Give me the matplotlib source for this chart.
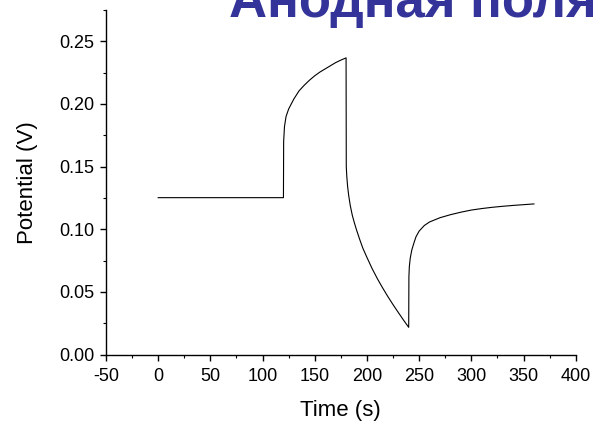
import matplotlib
matplotlib.use('Agg')
import matplotlib.pyplot as plt
from matplotlib.ticker import MultipleLocator

plt.rcParams['font.family'] = ['Liberation Sans', 'DejaVu Sans']
plt.rcParams['axes.unicode_minus'] = False

# readings from the picture: time (s), potential (V)
time = [0, 60, 120,
        120.2, 121, 122.5, 125, 130, 135, 140, 145, 150, 155, 160, 165, 170, 175, 180,
        180.2, 180.7, 181.5, 182.5, 184, 186, 188, 190, 193, 196, 200, 205, 210, 215, 220, 225, 230, 235, 240,
        240.2, 240.6, 241.5, 243, 245, 247, 250, 255, 260, 270, 280, 290, 300, 310, 320, 330, 340, 350, 360]
potential = [0.1252, 0.1252, 0.1252,
             0.170, 0.182, 0.190, 0.196, 0.204, 0.2105, 0.215, 0.219, 0.2225, 0.2255, 0.228, 0.2305, 0.233, 0.235, 0.2368,
             0.150, 0.142, 0.134, 0.127, 0.119, 0.111, 0.105, 0.0995, 0.092, 0.085, 0.0775, 0.0685, 0.0605, 0.0532, 0.0463, 0.0398, 0.0336, 0.0275, 0.0217,
             0.062, 0.070, 0.077, 0.0835, 0.089, 0.094, 0.0985, 0.1030, 0.1058, 0.1092, 0.1116, 0.1136, 0.1153, 0.1165, 0.1175, 0.1183, 0.1190, 0.1196, 0.1202]

title = 'Анодная поляризация'

W, H = 593, 422
fig = plt.figure(figsize=(W / 100, H / 100), dpi=100)
ax = fig.add_axes([106 / W, (H - 354.5) / H, (575.7 - 106) / W, (354.5 - 10) / H])

ax.plot(time, potential, color='black', linewidth=0.8)

ax.set_xlim(-50, 400)
ax.set_ylim(0, 0.275)
ax.xaxis.set_major_locator(MultipleLocator(50))
ax.xaxis.set_minor_locator(MultipleLocator(25))
ax.yaxis.set_minor_locator(MultipleLocator(0.025))
ax.set_yticks([0, 0.05, 0.10, 0.15, 0.20, 0.25])
ax.set_yticklabels(['0.00', '0.05', '0.10', '0.15', '0.20', '0.25'])

for side in ('top', 'right'):
    ax.spines[side].set_visible(False)
for side in ('left', 'bottom'):
    ax.spines[side].set_linewidth(1.0)

ax.tick_params(which='major', direction='out', length=4.5, width=1.0, labelsize=13)
ax.tick_params(axis='x', which='major', pad=5)
ax.tick_params(axis='y', which='major', pad=4)
ax.tick_params(which='minor', direction='out', length=2.5, width=0.8)

ax.set_xlabel('Time (s)', fontsize=16, labelpad=11)
ax.set_ylabel('Potential (V)', fontsize=16, labelpad=15)

fig.text(229 / W, (H - 16.7) / H, title, fontsize=38, fontweight='bold',
         color='#333399', va='baseline', ha='left')

fig.savefig('out.png', dpi=100)
